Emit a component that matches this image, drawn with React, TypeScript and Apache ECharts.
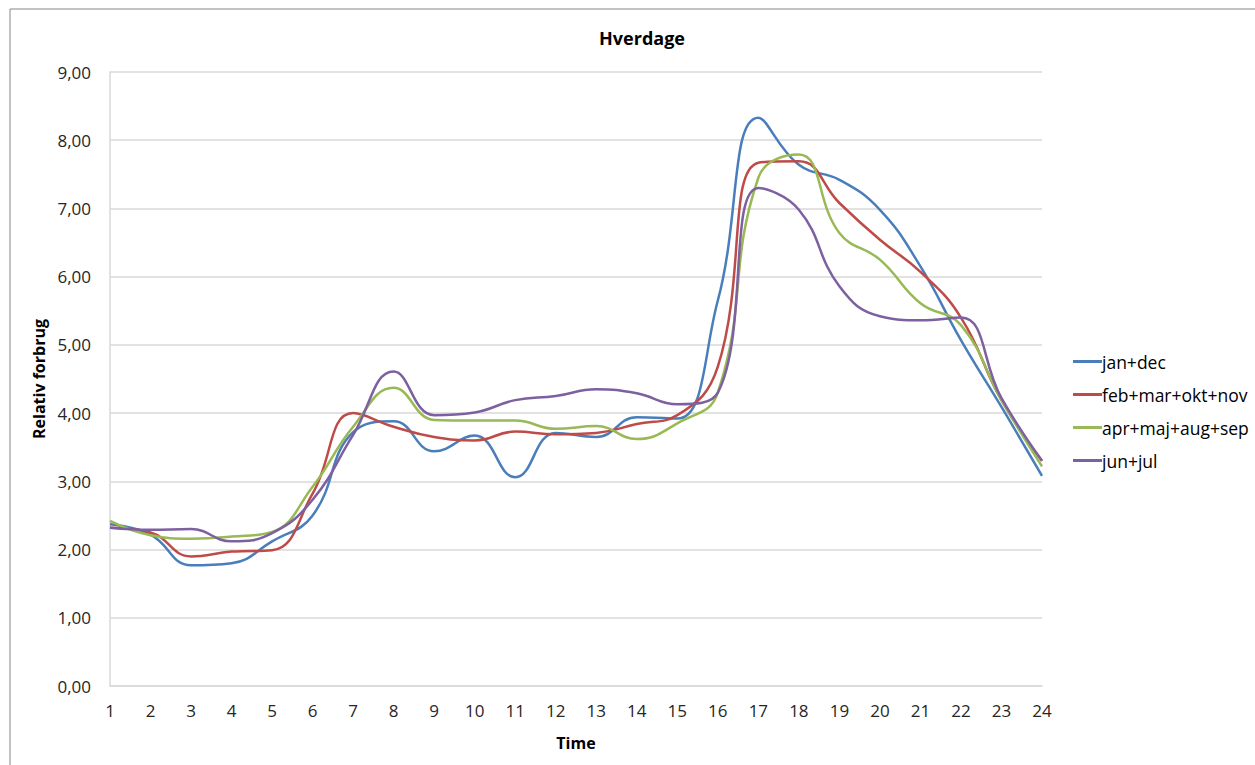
import React, { useEffect, useRef } from "react";
import * as echarts from "echarts";

const hours = ["1","2","3","4","5","6","7","8","9","10","11","12","13","14","15","16","17","18","19","20","21","22","23","24"];
const janDec = [2.37, 2.22, 1.77, 1.80, 2.12, 2.50, 3.72, 3.88, 3.44, 3.67, 3.06, 3.71, 3.65, 3.94, 3.92, 5.65, 8.33, 7.64, 7.42, 6.98, 6.15, 5.07, 4.09, 3.08];
const febMarOktNov = [2.32, 2.25, 1.90, 1.97, 1.99, 2.82, 4.00, 3.80, 3.65, 3.60, 3.73, 3.69, 3.71, 3.84, 3.97, 4.68, 7.67, 7.69, 7.08, 6.54, 6.07, 5.40, 4.19, 3.30];
const aprMajAugSep = [2.42, 2.21, 2.16, 2.19, 2.26, 2.92, 3.80, 4.37, 3.90, 3.89, 3.89, 3.77, 3.81, 3.62, 3.85, 4.30, 7.45, 7.79, 6.64, 6.25, 5.61, 5.29, 4.19, 3.22];
const junJul = [2.32, 2.29, 2.30, 2.12, 2.24, 2.73, 3.68, 4.61, 3.97, 4.01, 4.19, 4.25, 4.35, 4.29, 4.13, 4.30, 7.30, 6.98, 5.86, 5.42, 5.36, 5.40, 4.22, 3.30];
const seriesNames = ["jan+dec", "feb+mar+okt+nov", "apr+maj+aug+sep", "jun+jul"];
const colors = ["#4A7EBB", "#BE4B48", "#98B954", "#7D60A0"];

const FONT = "'Open Sans', sans-serif";

export default function App() {
  const ref = useRef<HTMLDivElement>(null);
  useEffect(() => {
    document.body.style.margin = "0";
    if (!ref.current) return;
    const chart = echarts.init(ref.current, null, { renderer: "svg" });
    const values = [janDec, febMarOktNov, aprMajAugSep, junJul];
    chart.setOption({
      animation: false,
      backgroundColor: "#ffffff",
      textStyle: { fontFamily: FONT },
      title: {
        text: "Hverdage",
        left: 637,
        top: 24,
        textAlign: "center",
        textStyle: { fontFamily: FONT, fontSize: 18, fontWeight: "bold", color: "#000000" },
      },
      graphic: [
        {
          type: "rect",
          shape: { x: 10, y: 9, width: 1400, height: 900 },
          style: { fill: "none", stroke: "#868686", lineWidth: 1 },
          silent: true,
          z: -1,
        },
      ],
      legend: {
        orient: "vertical",
        left: 1068,
        top: 344,
        icon: "rect",
        itemWidth: 29,
        itemHeight: 3,
        itemGap: 8,
        data: seriesNames,
        textStyle: {
          fontFamily: FONT,
          fontSize: 17.5,
          lineHeight: 25,
          color: "#000000",
          padding: [0, 0, 0, -5],
        },
      },
      grid: { left: 110, right: 213, top: 72, bottom: 79 },
      xAxis: {
        type: "category",
        data: hours,
        boundaryGap: false,
        name: "Time",
        nameLocation: "middle",
        nameGap: 49,
        nameTextStyle: { fontFamily: FONT, fontSize: 16, fontWeight: "bold", color: "#000000" },
        axisLine: { lineStyle: { color: "#D9D9D9", width: 1.5 } },
        axisTick: { show: false },
        axisLabel: { fontFamily: FONT, fontSize: 17, color: "#262626", margin: 16 },
      },
      yAxis: {
        type: "value",
        min: 0,
        max: 9,
        interval: 1,
        name: "Relativ forbrug",
        nameLocation: "middle",
        nameGap: 62,
        nameTextStyle: { fontFamily: FONT, fontSize: 16, fontWeight: "bold", color: "#000000" },
        axisLine: { show: true, lineStyle: { color: "#D9D9D9", width: 1.5 } },
        axisTick: { show: false },
        axisLabel: {
          fontFamily: FONT,
          fontSize: 17,
          color: "#262626",
          margin: 19,
          formatter: (v: number) => v.toFixed(2).replace(".", ","),
        },
        splitLine: { lineStyle: { color: "#D9D9D9", width: 1.5 } },
      },
      series: seriesNames.map((name, i) => ({
        name,
        type: "line",
        data: values[i],
        smooth: 0.45,
        symbol: "none",
        lineStyle: { color: colors[i], width: 2.5 },
        itemStyle: { color: colors[i] },
      })),
    });
    return () => chart.dispose();
  }, []);
  return <div ref={ref} style={{ width: 1255, height: 765 }} />;
}
